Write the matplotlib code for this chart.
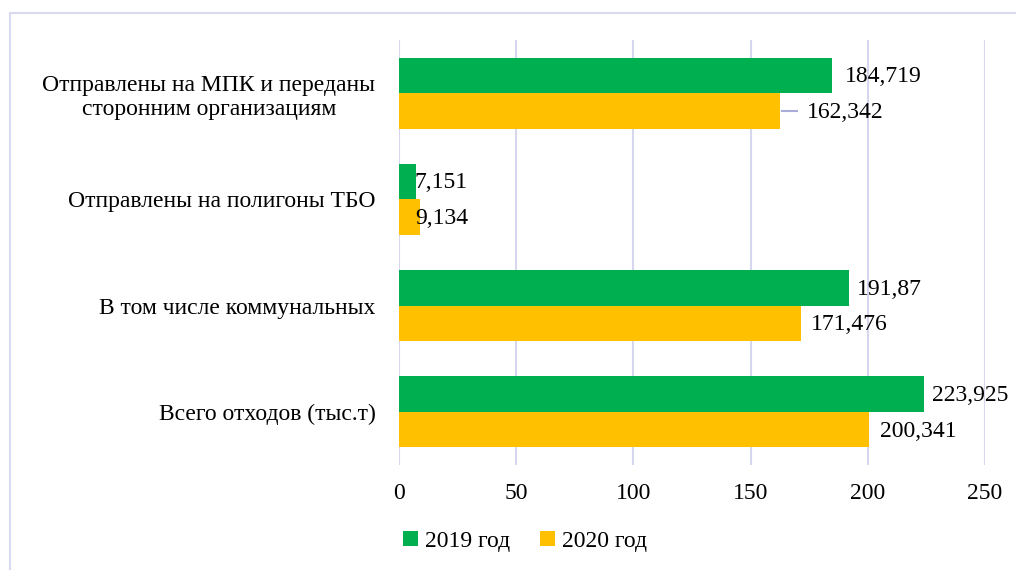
import matplotlib
matplotlib.use("Agg")
import matplotlib.pyplot as plt
from matplotlib.patches import Rectangle
import numpy as np

categories = ["Всего отходов (тыс.т)", "В том числе коммунальных",
              "Отправлены на полигоны ТБО",
              "Отправлены на МПК и переданы\nсторонним организациям"]
vals_2019 = [223.925, 191.87, 7.151, 184.719]
vals_2020 = [200.341, 171.476, 9.134, 162.342]
labels_2019 = ["223,925", "191,87", "7,151", "184,719"]
labels_2020 = ["200,341", "171,476", "9,134", "162,342"]
series_names = ["2019 год", "2020 год"]
xticks = [0, 50, 100, 150, 200, 250]

plt.rcParams['font.family'] = ['Liberation Serif', 'DejaVu Serif']
FS = 17

fig = plt.figure(figsize=(10.16, 5.70), dpi=100)
fig.patches.append(Rectangle((10/1016, -0.1), 1.2, 1 - 13/570 + 0.1,
                             transform=fig.transFigure, fill=False,
                             edgecolor='#d9d9ef', linewidth=1.5))
ax = fig.add_axes([399/1016, 1 - 465/570, 586/1016, 425/570])

y = np.arange(len(categories))
h = 0.335
green = '#00B050'
orange = '#FFC000'
b1 = ax.barh(y + h/2, vals_2019, height=h, color=green, label=series_names[0], zorder=3)
b2 = ax.barh(y - h/2, vals_2020, height=h, color=orange, label=series_names[1], zorder=3)

off19 = [6, 6, -1, 9]
off20 = [8, 7, -4, 20]
for i in range(len(categories)):
    ax.annotate(labels_2019[i], (vals_2019[i], y[i] + h/2), xytext=(off19[i], -1),
                textcoords='offset points', va='center', ha='left', fontsize=FS)
    ax.annotate(labels_2020[i], (vals_2020[i], y[i] - h/2), xytext=(off20[i], -1),
                textcoords='offset points', va='center', ha='left', fontsize=FS)
# leader line for moved label
x0 = vals_2020[3]
ax.plot([x0 + 1, x0 + 7.5], [y[3] - h/2, y[3] - h/2], color='#a9acd9', lw=1.5, zorder=4)

ax.set_xlim(0, 250)
ax.set_ylim(-0.5, 3.5)
ax.set_xticks(xticks)
ax.set_xticklabels([str(t) for t in xticks], fontsize=FS)
ax.set_yticks(y)
ax.set_yticklabels(categories, fontsize=FS, multialignment='center')
ax.tick_params(axis='both', length=0)
ax.tick_params(axis='y', pad=17)
ax.tick_params(axis='x', pad=13)
for s in ax.spines.values():
    s.set_visible(False)
ax.grid(axis='x', color='#d6d6ee', linewidth=1.5, zorder=0)
ax.set_axisbelow(True)

fig.legend(handles=[b1, b2], loc='center', bbox_to_anchor=(525/1016, 1 - 541/570),
           ncol=2, frameon=False, fontsize=FS, handlelength=0.6, handleheight=0.6,
           handletextpad=0.3, columnspacing=1.3)

fig.savefig("out.png", dpi=100)
